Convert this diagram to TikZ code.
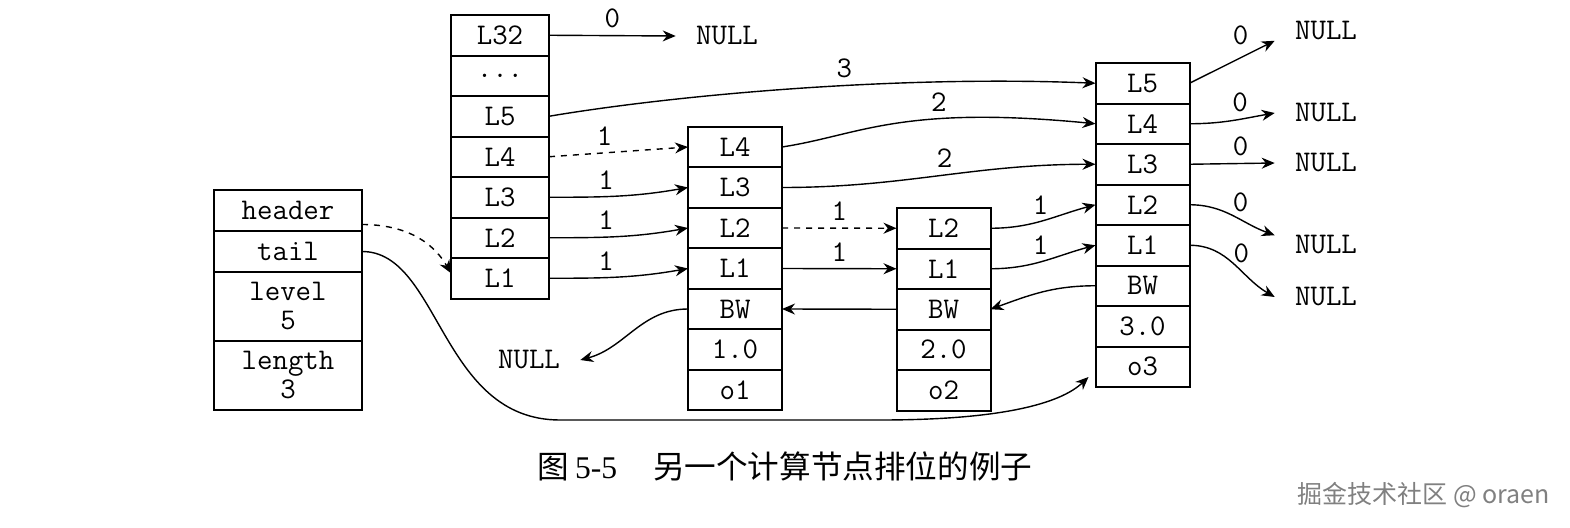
\documentclass[tikz,border=0pt]{standalone}
\usepackage{fontspec}
\usetikzlibrary{positioning,arrows.meta}
\newfontfamily\capserif{Liberation Serif}
\newfontfamily\cjk{Noto Sans CJK SC}
\newcommand\cellfont{\ttfamily\fontsize{15pt}{14.5pt}\selectfont}
\tikzset{
  cell/.style={draw, line width=1pt, minimum width=47pt, minimum height=20.25pt, inner sep=0pt, outer sep=0pt},
  link/.style={-{Stealth[length=6.5pt,width=5.5pt]}, line width=0.7pt},
  nullbox/.style={inner xsep=10pt, inner ysep=0pt}
}

\begin{document}
\begin{tikzpicture}[x=0.5pt, y=0.5pt, font=\cellfont]
  \useasboundingbox (0,0) rectangle (1570,527);
  % list struct
  \node[cell, minimum width=74pt, minimum height=20.5pt] (header) at (288,316.5) {header};
  \node[cell, minimum width=74pt, minimum height=20.5pt, below=0pt of header] (tail) {tail};
  \node[cell, minimum width=74pt, minimum height=34.5pt, align=center, below=0pt of tail] (level) {level\\5};
  \node[cell, minimum width=74pt, minimum height=34.5pt, align=center, below=0pt of level] (length) {length\\3};
  % header node and o1, o2, o3
  \foreach \n/\t [count=\i from 0] in {L32/L32,dots/.{}.{}.,L5/L5,L4/L4,L3/L3,L2/L2,L1/L1}
    \node[cell, minimum width=49pt] (hd-\n) at (500,491.75-40.5*\i) {\t};
  \foreach \n/\t [count=\i from 0] in {L4/L4,L3/L3,L2/L2,L1/L1,BW/BW,sc/1.0,ob/o1}
    \node[cell] (a-\n) at (735,380-40.5*\i) {\t};
  \foreach \n/\t [count=\i from 0] in {L2/L2,L1/L1,BW/BW,sc/2.0,ob/o2}
    \node[cell] (b-\n) at (943.5,298.75-40.5*\i) {\t};
  \foreach \n/\t [count=\i from 0] in {L5/L5,L4/L4,L3/L3,L2/L2,L1/L1,BW/BW,sc/3.0,ob/o3}
    \node[cell] (c-\n) at (1142.5,443.75-40.5*\i) {\t};
  % NULLs
  \node[nullbox] (n32) at (727,491) {NULL};
  \node[nullbox] (nbw) at (529,167) {NULL};
  \foreach \n/\y in {1/496,2/414,3/364,4/282,5/230}
    \node[nullbox] (r\n) at (1326,\y) {NULL};
  % forward pointers
  \draw[link] (hd-L32.east) -- node[above]{0} (n32.west);
  \draw[link] (hd-L5.east) .. controls +(131,22) and +(-196,8) .. (c-L5.west) node[pos=.58,above]{3};
  \draw[link,dashed] (hd-L4.east) -- node[above,pos=.4]{1} (a-L4.west);
  \foreach \l in {L3,L2,L1}
    \draw[link] (hd-\l.east) to[out=0,in=190] node[above,pos=.4]{1} (a-\l.west);
  \draw[link] (a-L4.east) .. controls +(78,12) and +(-196,19) .. (c-L4.west) node[pos=.65,above]{2};
  \draw[link] (a-L3.east) to[out=0,in=180] node[above,pos=.52]{2} (c-L3.west);
  \draw[link,dashed] (a-L2.east) -- node[above]{1} (b-L2.west);
  \draw[link] (a-L1.east) -- node[above]{1} (b-L1.west);
  \foreach \l in {L2,L1}
    \draw[link] (b-\l.east) to[out=0,in=195] node[above,pos=.47]{1} (c-\l.west);
  \draw[link] (c-L5.east) -- node[above,pos=.6,yshift=3pt]{0} (r1.south west);
  \draw[link] (c-L4.east) to[out=0,in=190] node[above,pos=.6]{0} (r2.west);
  \draw[link] (c-L3.east) -- node[above,pos=.6]{0} (r3.west);
  \draw[link] (c-L2.east) to[out=0,in=160] node[above,pos=.6]{0} (r4.north west);
  \draw[link] (c-L1.east) to[out=0,in=150] node[above,pos=.6]{0} (r5.west);
  % backward pointers
  \draw[link] (c-BW.west) to[out=180,in=20] (b-BW.east);
  \draw[link] (b-BW.west) -- (a-BW.east);
  \draw[link] (a-BW.west) to[out=180,in=15] (nbw.east);
  % header and tail
  \draw[link,dashed] ([yshift=-7pt]header.east) to[out=0,in=120] ([yshift=2.5pt]hd-L1.west);
  \draw[link] (tail.east) .. controls (440,275.5) and (440,107) .. (560,107) -- (880,107)
    .. controls (1000,107) and (1060,123) .. ([shift={(-3.5pt,5pt)}]c-ob.south west);
  % caption
  \node[anchor=west, inner sep=0pt, font=\cjk\fontsize{15.8pt}{16pt}\selectfont] (caption) at (537,60.5)
    {图\hspace{3pt}{\capserif 5-5}\hspace{18pt}另一个计算节点排位的例子};
  \node[anchor=west, inner sep=0pt, text=black!50, font=\cjk\fontsize{12.5pt}{13pt}\selectfont] (mark) at (1297,32)
    {掘金技术社区 @ oraen};
\end{tikzpicture}
\end{document}
